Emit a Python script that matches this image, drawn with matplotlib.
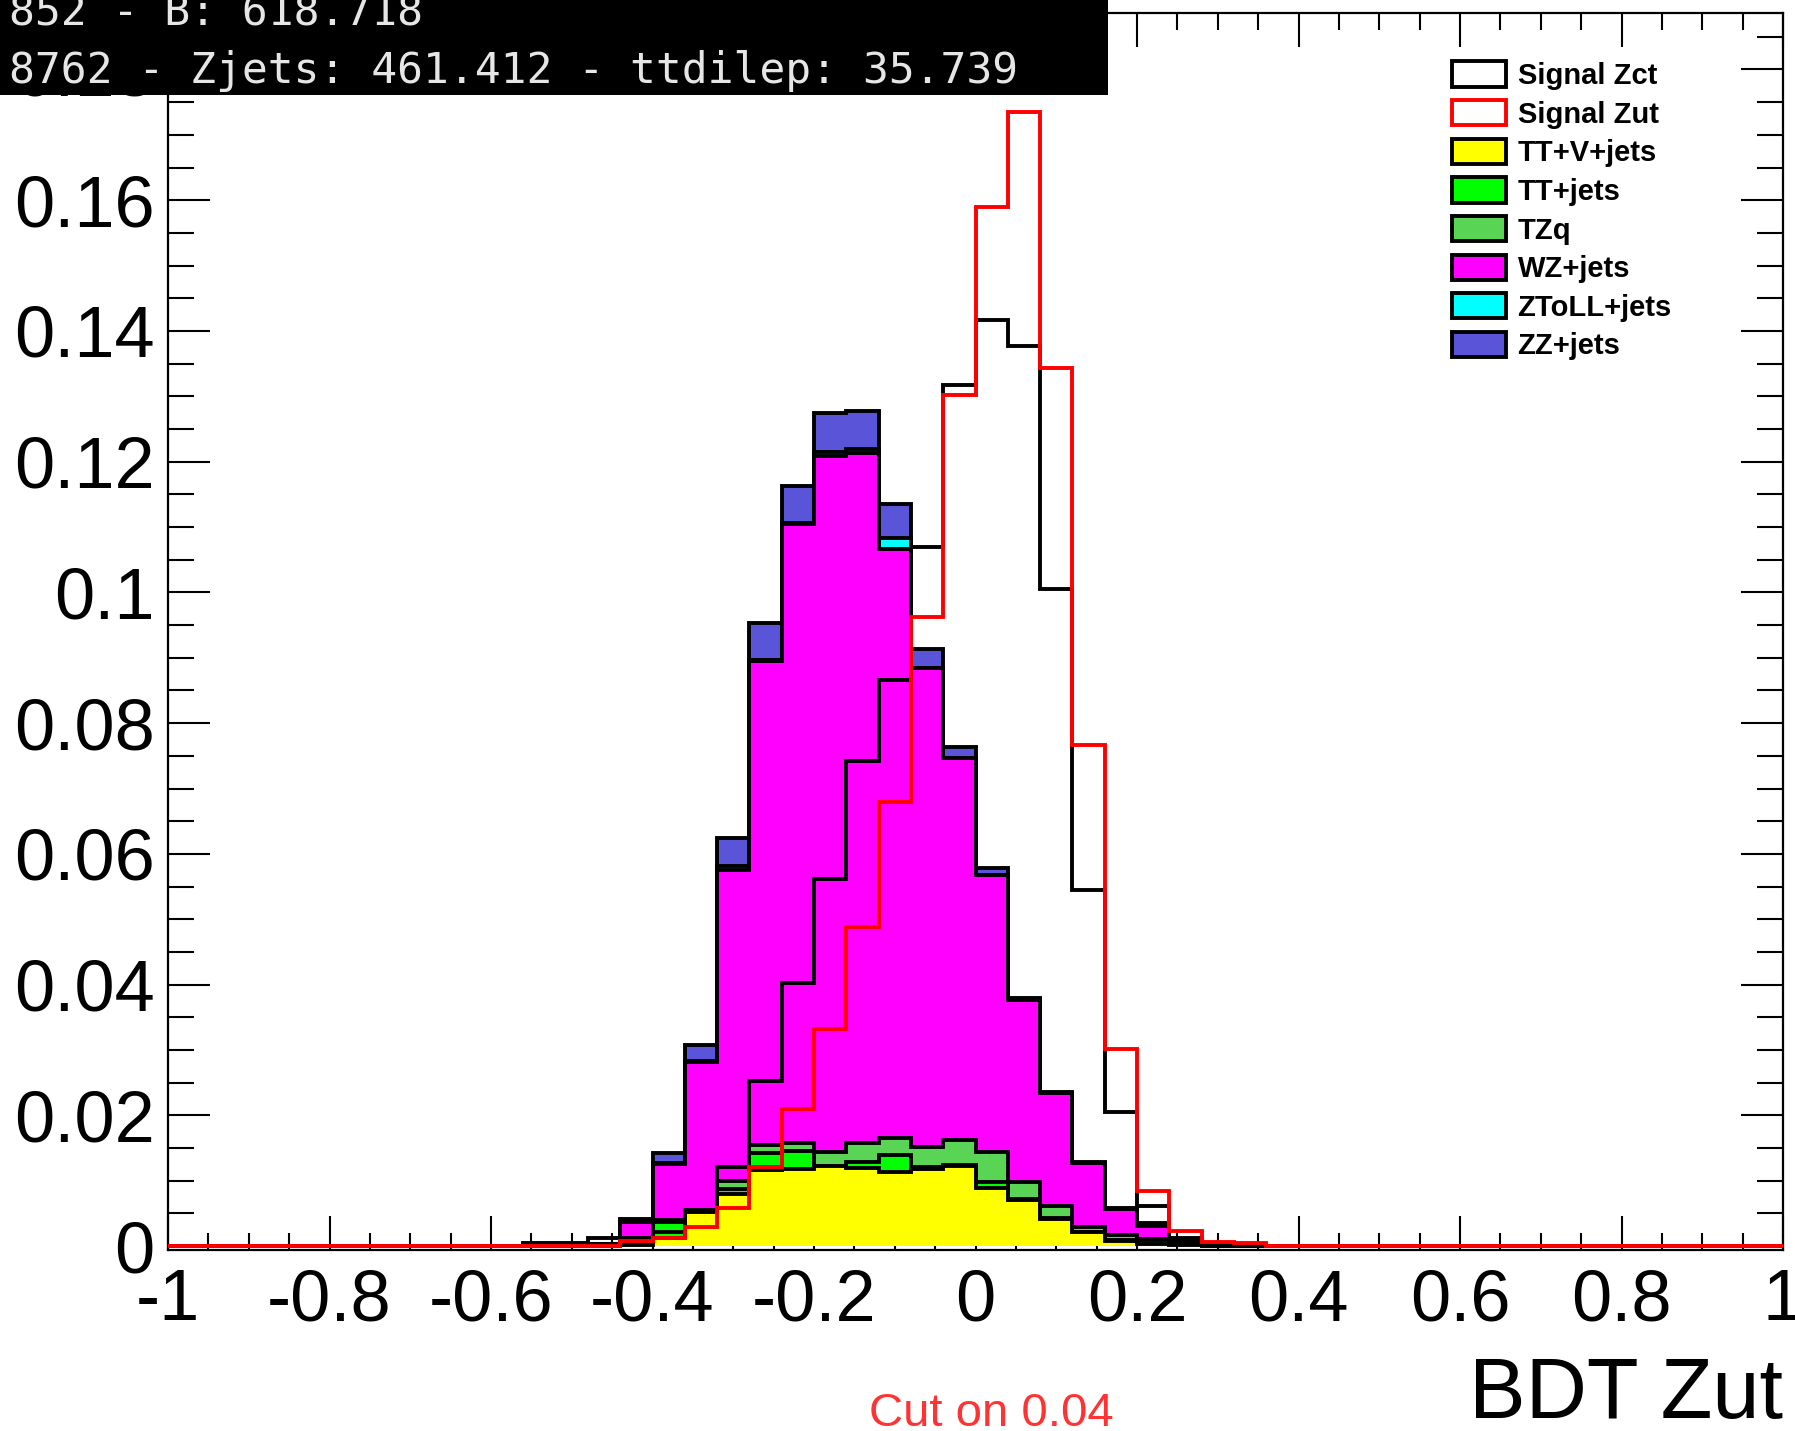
import numpy as np
import matplotlib
matplotlib.use("Agg")
import matplotlib.pyplot as plt
from matplotlib.patches import Patch, Rectangle
from matplotlib.ticker import MultipleLocator, FuncFormatter

plt.rcParams['font.family'] = ['Liberation Sans', 'DejaVu Sans']
plt.rcParams['axes.unicode_minus'] = False

# ---- data: 50 bins of width 0.04 from -1 to 1 ----
x_min, x_max, n_bins = -1.0, 1.0, 50

signal_zct = [
    0, 0, 0, 0, 0, 0, 0, 0, 0, 0,
    0, 0.0005, 0.0005, 0.0012, 0.0010, 0.0021, 0.0053, 0.0121, 0.0253, 0.0403,
    0.0561, 0.0742, 0.0866, 0.1070, 0.1317, 0.1416, 0.1377, 0.1005, 0.0544, 0.0205,
    0.0062, 0.0013, 0.0005, 0.0002, 0, 0, 0, 0, 0, 0,
    0, 0, 0, 0, 0, 0, 0, 0, 0, 0]
signal_zut = [
    0, 0, 0, 0, 0, 0, 0, 0, 0, 0,
    0, 0, 0, 0, 0.0008, 0.0013, 0.0029, 0.0059, 0.0121, 0.0209,
    0.0332, 0.0488, 0.0680, 0.0962, 0.1302, 0.1590, 0.1735, 0.1344, 0.0766, 0.0302,
    0.0085, 0.0023, 0.0007, 0.0004, 0, 0, 0, 0, 0, 0,
    0, 0, 0, 0, 0, 0, 0, 0, 0, 0]
tt_v_jets = [
    0, 0, 0, 0, 0, 0, 0, 0, 0, 0,
    0, 0, 0, 0, 0.0002, 0.0012, 0.0052, 0.0080, 0.0116, 0.0118,
    0.0122, 0.0120, 0.0114, 0.0118, 0.0123, 0.0089, 0.0071, 0.0042, 0.0021, 0.0008,
    0.0003, 0.0001, 0, 0, 0, 0, 0, 0, 0, 0,
    0, 0, 0, 0, 0, 0, 0, 0, 0, 0]
tt_jets = [
    0, 0, 0, 0, 0, 0, 0, 0, 0, 0,
    0, 0, 0, 0, 0.0006, 0.0025, 0.0002, 0.0008, 0.0027, 0.0027,
    0.0001, 0.0008, 0.0025, 0.0003, 0.0001, 0.0009, 0.0001, 0.0001, 0.0001, 0.0001,
    0.0007, 0.0002, 0, 0, 0, 0, 0, 0, 0, 0,
    0, 0, 0, 0, 0, 0, 0, 0, 0, 0]
tzq = [
    0, 0, 0, 0, 0, 0, 0, 0, 0, 0,
    0, 0, 0, 0, 0.0004, 0.0003, 0.0001, 0.0012, 0.0012, 0.0012,
    0.0021, 0.0029, 0.0027, 0.0031, 0.0038, 0.0046, 0.0026, 0.0018, 0.0007, 0.0008,
    0.0001, 0, 0, 0, 0, 0, 0, 0, 0, 0,
    0, 0, 0, 0, 0, 0, 0, 0, 0, 0]
wz_jets = [
    0, 0, 0, 0, 0, 0, 0, 0, 0, 0,
    0, 0, 0, 0.0003, 0.0025, 0.0086, 0.0226, 0.0476, 0.0740, 0.0948,
    0.1064, 0.1056, 0.0901, 0.0733, 0.0584, 0.0424, 0.0279, 0.0173, 0.0098, 0.0039,
    0.0020, 0.0003, 0.0002, 0, 0, 0, 0, 0, 0, 0,
    0, 0, 0, 0, 0, 0, 0, 0, 0, 0]
ztoll_jets = [
    0, 0, 0, 0, 0, 0, 0, 0, 0, 0,
    0, 0, 0, 0, 0, 0.0001, 0.0002, 0.0006, 0.0001, 0.0001,
    0.0007, 0.0007, 0.0016, 0, 0, 0, 0, 0, 0, 0,
    0, 0, 0, 0, 0, 0, 0, 0, 0, 0,
    0, 0, 0, 0, 0, 0, 0, 0, 0, 0]
zz_jets = [
    0, 0, 0, 0, 0, 0, 0, 0, 0, 0,
    0, 0, 0, 0, 0.0004, 0.0015, 0.0024, 0.0043, 0.0057, 0.0057,
    0.0059, 0.0058, 0.0053, 0.0028, 0.0018, 0.0011, 0.0003, 0.0002, 0.0002, 0.0002,
    0.0004, 0.0002, 0, 0, 0, 0, 0, 0, 0, 0,
    0, 0, 0, 0, 0, 0, 0, 0, 0, 0]

stack_labels = ["TT+V+jets", "TT+jets", "TZq", "WZ+jets", "ZToLL+jets", "ZZ+jets"]
stack_values = [tt_v_jets, tt_jets, tzq, wz_jets, ztoll_jets, zz_jets]
stack_colors = ["#ffff00", "#00ff00", "#59d454", "#ff00ff", "#00ffff", "#5954d8"]

info_line1 = "852 - B: 618.718"
info_line2 = "8762 - Zjets: 461.412 - ttdilep: 35.739"
x_title = "BDT Zut"
cut_text = "Cut on 0.04"

# ---- figure ----
W, H = 1795, 1431
fig = plt.figure(figsize=(W / 100, H / 100), dpi=100)
ax = fig.add_axes([168 / W, 1 - 1250 / H, (1783 - 168) / W, (1250 - 12.6) / H])

edges = np.linspace(x_min, x_max, n_bins + 1)
lw = 2.8

cum = np.cumsum(np.array(stack_values, dtype=float), axis=0)
for k in range(len(stack_values) - 1, -1, -1):
    ax.stairs(cum[k], edges, baseline=0, fill=True, facecolor=stack_colors[k],
              edgecolor="black", linewidth=lw, joinstyle="miter", zorder=2 + (5 - k) * 0.01)

ax.stairs(signal_zct, edges, baseline=0, color="black", linewidth=lw, zorder=3)
ax.stairs(signal_zut, edges, baseline=0, color="red", linewidth=lw, zorder=4)

ax.set_xlim(x_min, x_max)
ax.set_ylim(-0.0006, 0.1887)

for s in ax.spines.values():
    s.set_linewidth(1.6)

ax.xaxis.set_major_locator(MultipleLocator(0.2))
ax.xaxis.set_minor_locator(MultipleLocator(0.05))
ax.yaxis.set_major_locator(MultipleLocator(0.02))
ax.yaxis.set_minor_locator(MultipleLocator(0.005))
fmt = FuncFormatter(lambda v, p: "%g" % round(v, 6))
ax.xaxis.set_major_formatter(fmt)
ax.yaxis.set_major_formatter(fmt)

ax.tick_params(axis="both", which="both", direction="in", top=True, right=True, width=1.5)
ax.tick_params(axis="x", which="major", length=24.5, pad=13, labelsize=52)
ax.tick_params(axis="x", which="minor", length=12)
ax.tick_params(axis="y", which="major", length=30, pad=9.5, labelsize=52)
ax.tick_params(axis="y", which="minor", length=19)

ax.set_xlabel(x_title, fontsize=61)
ax.xaxis.label.set_ha("right")
ax.xaxis.label.set_va("baseline")
ax.xaxis.set_label_coords(1.0, -(1418 - 1250) / (1250 - 12.6))

# legend
handles = [Patch(facecolor="white", edgecolor="black", linewidth=lw, label="Signal Zct"),
           Patch(facecolor="white", edgecolor="red", linewidth=lw, label="Signal Zut")]
for lab, col in zip(stack_labels, stack_colors):
    handles.append(Patch(facecolor=col, edgecolor="black", linewidth=lw, label=lab))
ax.legend(handles=handles, loc="upper left", bbox_to_anchor=(1452 / W, 1 - 61.5 / H),
          bbox_transform=fig.transFigure, frameon=False, borderpad=0, borderaxespad=0,
          prop={"family": "Liberation Sans", "weight": "bold", "size": 21},
          handlelength=1.85, handleheight=0.96, handletextpad=0.4, labelspacing=0.34)

# black info box top-left
fig.add_artist(Rectangle((0, 1 - 95 / H), 1108 / W, 95 / H, transform=fig.transFigure,
                         facecolor="black", edgecolor="none", zorder=10))
fig.text(9 / W, 1 - 25 / H, info_line1, family="DejaVu Sans Mono", fontsize=31,
         color="#e6e6e6", va="baseline", ha="left", zorder=11)
fig.text(9 / W, 1 - 82.5 / H, info_line2, family="DejaVu Sans Mono", fontsize=31,
         color="#e6e6e6", va="baseline", ha="left", zorder=11)

fig.text(991 / W, 1 - 1426 / H, cut_text, fontsize=34, color="#ff3333",
         ha="center", va="baseline")

fig.savefig("out.png", dpi=100)
